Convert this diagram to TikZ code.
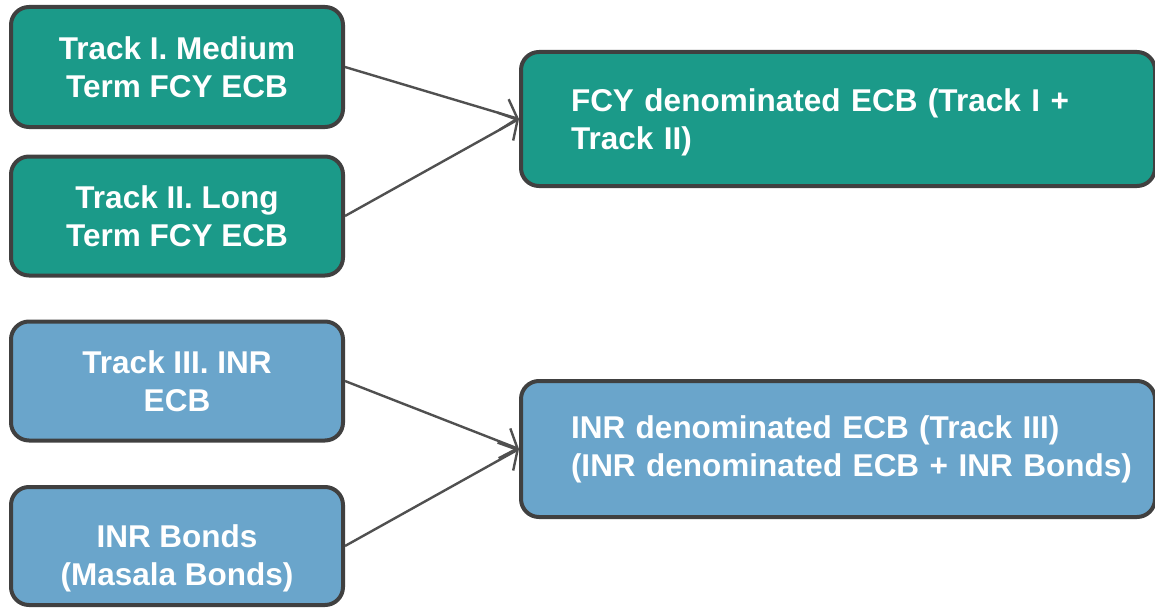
\documentclass[tikz,border=0pt]{standalone}
\usepackage{fontspec}
\setmainfont{Liberation Sans}
\usetikzlibrary{arrows.meta}
\definecolor{trackteal}{HTML}{1B9A89}
\definecolor{trackblue}{HTML}{6AA5CB}
\definecolor{edgegrey}{HTML}{404040}
\definecolor{arrowgrey}{HTML}{505050}
\tikzset{
  trackbox/.style={draw=edgegrey, line width=4pt, rounded corners=18pt, text=white,
    font=\fontsize{31.5}{38}\selectfont\bfseries, align=center,
    minimum width=332pt, inner sep=0pt},
  sumbox/.style={trackbox, minimum width=634pt, text width=604pt, inner xsep=15pt,
    align=left, execute at begin node={\leftskip=35pt}},
  feed/.style={->, draw=arrowgrey, line width=2.4pt}
}
\begin{document}
\begin{tikzpicture}[x=1pt, y=-1pt, >={Straight Barb[length=14pt,width=32pt]}]
    \useasboundingbox (0,0) rectangle (1155,607);
    % foreign currency tracks
    \node[trackbox, fill=trackteal, minimum height=120pt] (t1) at (177,67) {Track I. Medium\\Term FCY ECB};
    \node[trackbox, fill=trackteal, minimum height=119pt] (t2) at (177,216) {Track II. Long\\Term FCY ECB};
    \node[sumbox, fill=trackteal, minimum height=134pt, text depth=37pt] (fcy) at (838,119) {FCY denominated ECB (Track I +\\Track II)};
    % rupee tracks
    \node[trackbox, fill=trackblue, minimum height=119pt] (t3) at (177,381) {Track III. INR\\ECB};
    \node[trackbox, fill=trackblue, minimum height=118pt, text height=85pt] (t4) at (177,546) {INR Bonds\\(Masala Bonds)};
    \node[sumbox, fill=trackblue, minimum height=136pt] (inr) at (838,449) {INR denominated ECB (Track III)\\(INR denominated ECB + INR Bonds)};
    \draw[feed] (t1.east) to (fcy.west);
    \draw[feed] (t2.east) to (fcy.west);
    \draw[feed] (t3.east) to (inr.west);
    \draw[feed] (t4.east) to (inr.west);
  \end{tikzpicture}
\end{document}
